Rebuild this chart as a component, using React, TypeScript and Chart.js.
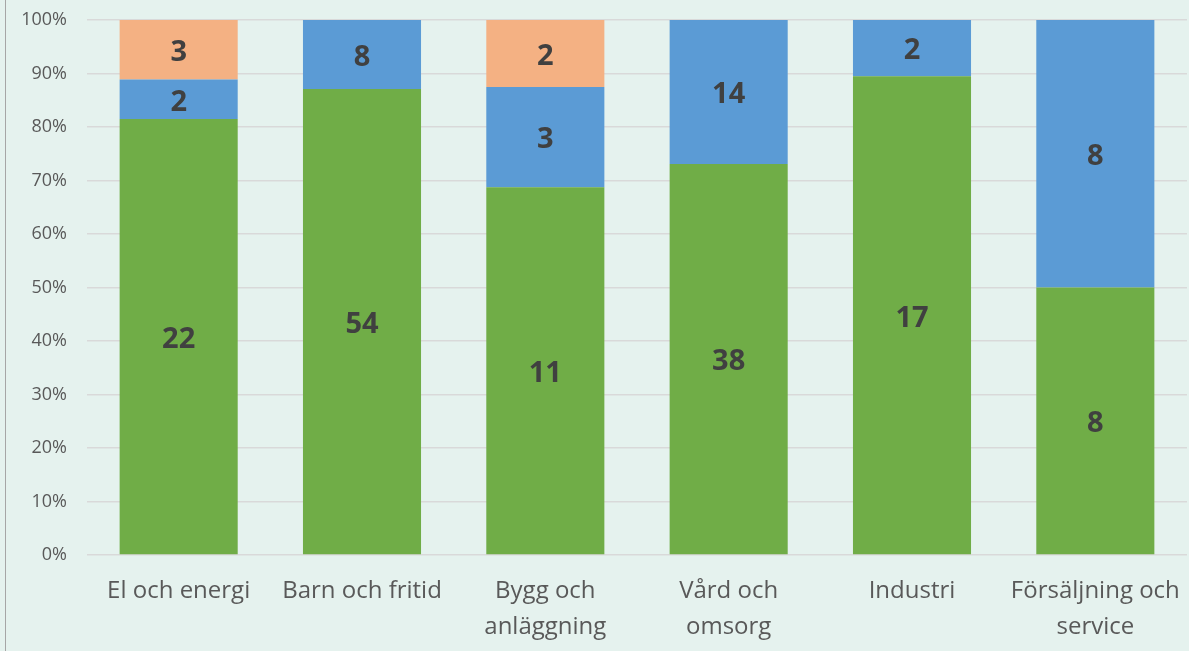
import React, { useEffect, useRef } from "react";
import { Chart, registerables } from "chart.js";

Chart.register(...registerables);

const categories: (string | string[])[] = [
  "El och energi",
  "Barn och fritid",
  ["Bygg och", "anläggning"],
  ["Vård och", "omsorg"],
  "Industri",
  ["Försäljning och", "service"],
];
const greenCounts = [22, 54, 11, 38, 17, 8];
const blueCounts = [2, 8, 3, 14, 2, 8];
const orangeCounts = [3, 0, 2, 0, 0, 0];
const yTicks = [0, 10, 20, 30, 40, 50, 60, 70, 80, 90, 100];

const totals = greenCounts.map((g, i) => g + blueCounts[i] + orangeCounts[i]);
const pct = (arr: number[]) => arr.map((v, i) => (v / totals[i]) * 100);

const FONT = "'Open Sans', sans-serif";

const labelPlugin = {
  id: "countLabels",
  afterDatasetsDraw(chart: any) {
    const ctx = chart.ctx;
    ctx.save();
    ctx.font = `bold 29px ${FONT}`;
    ctx.fillStyle = "#404040";
    ctx.textAlign = "center";
    ctx.textBaseline = "middle";
    chart.data.datasets.forEach((ds: any, di: number) => {
      const meta = chart.getDatasetMeta(di);
      meta.data.forEach((el: any, i: number) => {
        const c = ds.counts[i];
        if (!c) return;
        const y = (el.y + el.base) / 2;
        ctx.fillText(String(c), el.x, y + 3);
      });
    });
    ctx.restore();
  },
};

export default function App() {
  const ref = useRef<HTMLCanvasElement>(null);
  useEffect(() => {
    document.body.style.margin = "0";
    const chart = new Chart(ref.current!, {
      type: "bar",
      data: {
        labels: categories,
        datasets: [
          { label: "green", data: pct(greenCounts), counts: greenCounts, backgroundColor: "#70AD47", borderWidth: 0 } as any,
          { label: "blue", data: pct(blueCounts), counts: blueCounts, backgroundColor: "#5B9BD5", borderWidth: 0 } as any,
          { label: "orange", data: pct(orangeCounts), counts: orangeCounts, backgroundColor: "#F4B183", borderWidth: 0 } as any,
        ],
      },
      options: {
        animation: false,
        responsive: false,
        layout: { padding: { top: 20, right: 2, left: 0, bottom: 0 } },
        plugins: { legend: { display: false }, tooltip: { enabled: false } },
        datasets: { bar: { categoryPercentage: 0.644, barPercentage: 1 } },
        scales: {
          x: {
            stacked: true,
            grid: { display: false },
            border: { display: false },
            ticks: { color: "#595959", font: { family: FONT, size: 24, lineHeight: 1.5 }, padding: 10, maxRotation: 0, autoSkip: false },
            afterFit: (s: any) => { s.height = 96; s.paddingLeft = 0; s.paddingRight = 0; },
          },
          y: {
            stacked: true,
            min: 0,
            max: 100,
            afterBuildTicks: (s: any) => { s.ticks = yTicks.map((v) => ({ value: v })); },
            grid: { color: "#D9D9D9", lineWidth: 1.5, drawTicks: false },
            border: { display: false },
            ticks: { color: "#595959", font: { family: FONT, size: 18 }, padding: 20, callback: (v: any) => v + "%" },
            afterFit: (s: any) => { s.width = 87; s.paddingTop = 0; s.paddingBottom = 0; },
          },
        },
      },
      plugins: [labelPlugin],
    } as any);
    return () => chart.destroy();
  }, []);
  return (
    <div style={{ position: "relative", width: 1189, height: 651, background: "#E5F2EE", overflow: "hidden" }}>
      <div style={{ position: "absolute", left: 5, top: 0, width: 1, height: 651, background: "#A6A6A6" }} />
      <canvas ref={ref} width={1189} height={651} style={{ position: "absolute", left: 0, top: 0 }} />
    </div>
  );
}
